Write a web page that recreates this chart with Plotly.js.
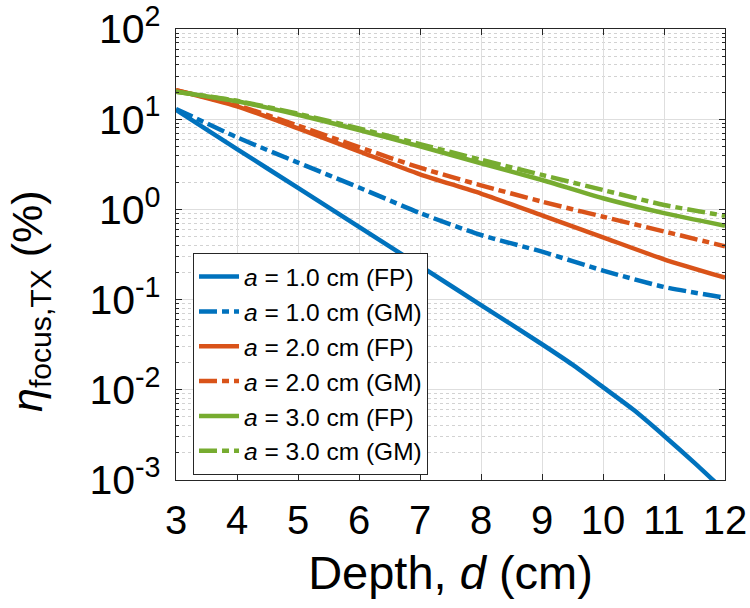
<!DOCTYPE html>
<html>
<head>
<meta charset="utf-8">
<script src="https://cdn.plot.ly/plotly-3.0.1.min.js"></script>
<style>html,body{margin:0;padding:0;background:#fff;}#plot{width:750px;height:608px;}</style>
</head>
<body>
<div id="plot"></div>
<script>
// Depth values (cm)
var depth = [3, 4, 5, 6, 7, 8, 9, 10, 11, 12];
var depthFine = [3, 4, 5, 6, 7, 8, 9, 9.5, 10, 10.5, 11, 11.5, 12];
// Efficiency eta_focus,TX (%)
var blueFP  = [12.7, 4.67, 1.73, 0.64, 0.236, 0.087, 0.032, 0.019, 0.0107, 0.006, 0.0031, 0.00155, 0.00075];
var blueGM  = [13, 6.3, 3.3, 1.75, 0.91, 0.52, 0.34, 0.21, 0.138, 0.105];
var redFP   = [21, 13.9, 7.9, 4.4, 2.45, 1.5, 0.86, 0.49, 0.28, 0.175];
var redGM   = [21, 14.3, 8.5, 4.9, 2.9, 1.85, 1.22, 0.83, 0.57, 0.39];
var greenFP = [20.2, 15.8, 11.2, 7.6, 5.0, 3.25, 2.12, 1.33, 0.91, 0.66];
var greenGM = [20.2, 16.0, 11.5, 7.9, 5.3, 3.55, 2.41, 1.64, 1.12, 0.85];
var legendNames = [
  '<i>a</i> = 1.0 cm (FP)', '<i>a</i> = 1.0 cm (GM)',
  '<i>a</i> = 2.0 cm (FP)', '<i>a</i> = 2.0 cm (GM)',
  '<i>a</i> = 3.0 cm (FP)', '<i>a</i> = 3.0 cm (GM)'
];
var xTicks = [3, 4, 5, 6, 7, 8, 9, 10, 11, 12];
var yTickVals = [0.001, 0.01, 0.1, 1, 10, 100];
var yTickText = ['10<sup>-3</sup>', '10<sup>-2</sup>', '10<sup>-1</sup>', '10<sup>0</sup>', '10<sup>1</sup>', '10<sup>2</sup>'];

var colors = ['#0072BD', '#D95319', '#77AC30'];
var dashDot = '18px,5px,7px,5px';
var series = [blueFP, blueGM, redFP, redGM, greenFP, greenGM];
var xs = [depthFine, depth, depth, depth, depth, depth];

var minorVals = [];
for (var k = -3; k < 2; k++) {
  for (var m = 2; m <= 9; m++) minorVals.push(m * Math.pow(10, k));
}

var traces = series.map(function (s, i) {
  return {
    x: xs[i], y: s, type: 'scatter', mode: 'lines',
    name: legendNames[i],
    line: {color: colors[Math.floor(i / 2)], width: 4.5, shape: 'spline', smoothing: 0.6,
           dash: (i % 2 === 0) ? 'solid' : dashDot}
  };
});

var fontFam = '"Liberation Sans", Arial, Helvetica, sans-serif';
var axisColor = '#262626';

var layout = {
  width: 750, height: 608,
  margin: {l: 176, r: 25, t: 29, b: 128},
  paper_bgcolor: '#fff', plot_bgcolor: '#fff',
  font: {family: fontFam, color: '#000', size: 40},
  showlegend: true,
  legend: {
    x: 0.031, y: 0.503, xanchor: 'left', yanchor: 'top',
    bgcolor: '#fff', bordercolor: axisColor, borderwidth: 1,
    font: {size: 24.5, family: fontFam, color: '#000'},
    tracegroupgap: 0, itemwidth: 40
  },
  xaxis: {
    range: [3, 12], tickvals: xTicks, ticktext: xTicks.map(String),
    ticks: 'inside', ticklen: 6, tickcolor: axisColor, tickwidth: 1,
    showline: true, linecolor: axisColor, linewidth: 1.3, mirror: 'ticks',
    showgrid: true, gridcolor: '#dedede', gridwidth: 1, zeroline: false,
    tickfont: {size: 40}, ticklabelstandoff: 5,
    title: {text: 'Depth, <i>d</i> (cm)', font: {size: 47}, standoff: 14}
  },
  yaxis: {
    type: 'log', range: [-3, 2],
    tickmode: 'array', tickvals: yTickVals, ticktext: yTickText,
    ticks: 'inside', ticklen: 6, tickcolor: axisColor, tickwidth: 1,
    showline: true, linecolor: axisColor, linewidth: 1.3, mirror: 'ticks',
    showgrid: true, gridcolor: '#dedede', gridwidth: 1, zeroline: false,
    tickfont: {size: 41}, ticklabelstandoff: 6,
    minor: {
      tickmode: 'array', tickvals: minorVals, ticks: 'inside', ticklen: 3,
      tickcolor: axisColor, showgrid: true, gridcolor: '#d2d2d2', griddash: 'dot', gridwidth: 1
    }
  },
  annotations: [{
    text: '<i>η</i><sub>focus,TX</sub> (%)',
    xref: 'paper', yref: 'paper', x: -0.265, y: 0.396,
    xanchor: 'center', yanchor: 'middle', textangle: -90, showarrow: false,
    font: {size: 43, family: fontFam, color: '#000'}
  }]
};

Plotly.newPlot('plot', traces, layout, {displayModeBar: false, staticPlot: true});
</script>
</body>
</html>
